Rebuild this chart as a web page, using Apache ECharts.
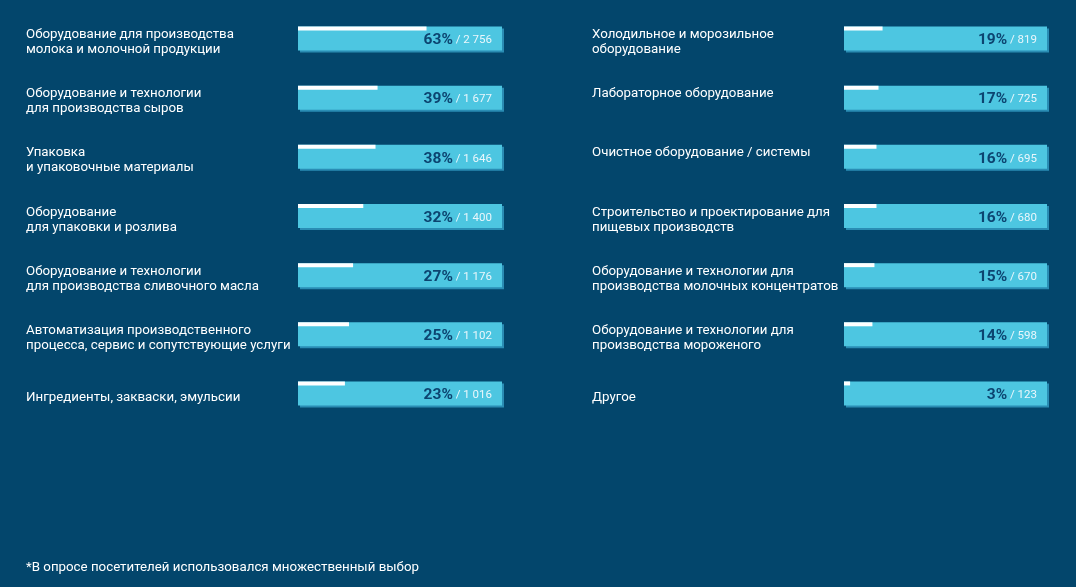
<!DOCTYPE html>
<html><head><meta charset="utf-8">
<script src="https://cdn.jsdelivr.net/npm/echarts@6/dist/echarts.min.js"></script>
<style>html,body{margin:0;padding:0;background:#03466c;}#c{width:1076px;height:587px;}</style>
</head><body><div id="c"></div>
<script>
const leftCategories = [
  'Оборудование для производства\nмолока и молочной продукции',
  'Оборудование и технологии\nдля производства сыров',
  'Упаковка\nи упаковочные материалы',
  'Оборудование\nдля упаковки и розлива',
  'Оборудование и технологии\nдля производства сливочного масла',
  'Автоматизация производственного\nпроцесса, сервис и сопутствующие услуги',
  'Ингредиенты, закваски, эмульсии'
];
const leftPercent = [63, 39, 38, 32, 27, 25, 23];
const leftCount = [2756, 1677, 1646, 1400, 1176, 1102, 1016];

const rightCategories = [
  'Холодильное и морозильное\nоборудование',
  'Лабораторное оборудование',
  'Очистное оборудование / системы',
  'Строительство и проектирование для\nпищевых производств',
  'Оборудование и технологии для\nпроизводства молочных концентратов',
  'Оборудование и технологии для\nпроизводства мороженого',
  'Другое'
];
const rightPercent = [19, 17, 16, 16, 15, 14, 3];
const rightCount = [819, 725, 695, 680, 670, 598, 123];

const footnote = '*В опросе посетителей использовался множественный выбор';

// labels whose text sits at the top of the row in the reference
const topAligned = {'Лабораторное оборудование':1, 'Очистное оборудование / системы':1};

function fmt(n){ return String(n).replace(/\B(?=(\d{3})+(?!\d))/g, ' '); }

function makeRender(cats, counts, labelGap){
  return function(params, api){
    const idx = api.value(0);
    const pct = api.value(1);
    const p0 = api.coord([0, idx]);
    const p100 = api.coord([100, idx]);
    const pv = api.coord([pct, idx]);
    const h = 24;
    const y = p0[1] - h/2 - 0.5;
    const w = p100[0] - p0[0];
    const name = cats[idx];
    return {
      type: 'group',
      children: [
        {type:'text', style:{
          x:p0[0]-labelGap, y:p0[1]+3.3, align:'left', verticalAlign:'middle',
          text: topAligned[name] ? name + '\n ' : name,
          fill:'#ffffff', fontFamily:'Roboto', fontSize:13.3, lineHeight:15
        }},
        {type:'rect', shape:{x:p0[0]+2, y:y+2, width:w, height:h}, style:{fill:'#2a8db4'}},
        {type:'rect', shape:{x:p0[0], y:y, width:w, height:h}, style:{fill:'#4dc6e1'}},
        {type:'rect', shape:{x:p0[0], y:y, width:pv[0]-p0[0], height:4}, style:{fill:'#ffffff'}},
        {type:'text', style:{
          x:p100[0]-10, y:p0[1]+1.3, align:'right', verticalAlign:'middle',
          text:'{p|'+pct+'%}{c| / '+fmt(counts[idx])+'}',
          rich:{
            p:{fontFamily:'Roboto', fontWeight:'bold', fontSize:15.5, fill:'#0c4470'},
            c:{fontFamily:'Roboto', fontSize:11.5, fill:'#eaf7fc'}
          }
        }}
      ]
    };
  };
}

const chart = echarts.init(document.getElementById('c'), null, {renderer:'canvas'});
const gridTop = 9.5, gridH = 414;
const yCommon = (cats) => ({
  type:'category', data:cats, inverse:true,
  axisLine:{show:false}, axisTick:{show:false}, splitLine:{show:false}, axisLabel:{show:false}
});
chart.setOption({
  backgroundColor:'#03466c',
  animation:false,
  grid:[
    {left:298, top:gridTop, width:204, height:gridH},
    {left:844, top:gridTop, width:203, height:gridH}
  ],
  xAxis:[
    {gridIndex:0, type:'value', min:0, max:100, show:false},
    {gridIndex:1, type:'value', min:0, max:100, show:false}
  ],
  yAxis:[
    Object.assign({gridIndex:0}, yCommon(leftCategories)),
    Object.assign({gridIndex:1}, yCommon(rightCategories))
  ],
  title:{text:footnote, left:26, top:561, textStyle:{color:'#ffffff', fontFamily:'Roboto', fontWeight:'normal', fontSize:13.3}, padding:0},
  series:[
    {type:'custom', xAxisIndex:0, yAxisIndex:0, renderItem:makeRender(leftCategories, leftCount, 272),
     encode:{x:1, y:0}, data:leftPercent.map((v,i)=>[i,v])},
    {type:'custom', xAxisIndex:1, yAxisIndex:1, renderItem:makeRender(rightCategories, rightCount, 252),
     encode:{x:1, y:0}, data:rightPercent.map((v,i)=>[i,v])}
  ]
});
</script></body></html>
